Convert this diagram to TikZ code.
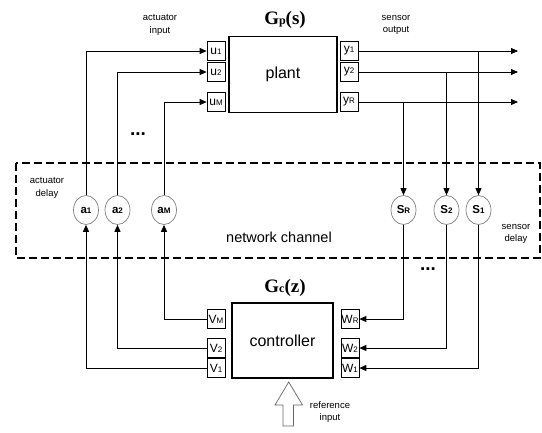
\documentclass[tikz,border=0pt]{standalone}
\usepackage{fontspec}
\setmainfont{Liberation Sans}
\newfontfamily\gfont{Liberation Serif}
\usetikzlibrary{shapes.geometric,arrows.meta}
% letter with a small index after it
\newcommand{\plab}[2]{#1{\fontsize{8}{8}\selectfont #2}}
\begin{document}
\begin{tikzpicture}[x=1pt,y=-1pt,>={Triangle[length=7pt,width=6pt]},line width=0.8pt,
  blk/.style={draw,line width=1.5pt,minimum width=#1,minimum height=76pt,font=\fontsize{16}{16}\selectfont},
  port/.style={draw,line width=0.7pt,minimum width=18pt,minimum height=19pt,inner sep=0pt,font=\fontsize{12}{12}\selectfont},
  dly/.style={ellipse,draw=gray,line width=0.7pt,minimum width=25pt,minimum height=29pt,inner sep=0pt,font=\fontsize{11.5}{11.5}\selectfont\bfseries},
  lbl/.style={align=center,font=\fontsize{9.5}{12.5}\selectfont},
  tf/.style={font=\gfont\bfseries\fontsize{19}{19}\selectfont}]
\useasboundingbox (0,0) rectangle (542,432);
% plant and controller
\node[blk=108pt] (plant) at (283,74.5) {plant};
\node[tf] (gp) at (285,20) {G{\fontsize{12}{12}\selectfont p}(s)};
\node[blk=101pt,minimum height=75pt] (ctrl) at (282.5,340.5) {controller};
\node[tf] (gc) at (285,288) {G{\fontsize{12}{12}\selectfont c}(z)};
% ports
\node[port] (u1) at (216,51) {\plab{u}{1}};
\node[port] (u2) at (216,72) {\plab{u}{2}};
\node[port] (uM) at (216,102) {\plab{u}{M}};
\node[port] (y1) at (349,51) {\plab{y}{1}};
\node[port] (y2) at (349,72) {\plab{y}{2}};
\node[port] (yR) at (349,102) {\plab{y}{R}};
\node[port] (vM) at (216,319) {\plab{V}{M}};
\node[port] (v2) at (216,348) {\plab{V}{2}};
\node[port] (v1) at (216,368) {\plab{V}{1}};
\node[port] (wR) at (350,319) {\plab{W}{R}};
\node[port] (w2) at (350,348) {\plab{W}{2}};
\node[port] (w1) at (350,368) {\plab{W}{1}};
% network channel
\draw[line width=1.4pt,dash pattern=on 8pt off 4pt] (16,163) rectangle (540,258);
\node[font=\fontsize{14.5}{14.5}\selectfont] (net) at (279,237) {network channel};
\node[dly] (a1) at (86,210) {\plab{a}{1}};
\node[dly] (a2) at (117.5,210) {\plab{a}{2}};
\node[dly] (aM) at (164,210) {\plab{a}{M}};
\node[dly] (sR) at (403.5,210) {\plab{S}{R}};
\node[dly] (s2) at (446.5,210) {\plab{S}{2}};
\node[dly] (s1) at (478.5,210) {\plab{S}{1}};
% labels
\node[lbl] (ain) at (160,25) {actuator\\input};
\node[lbl] (sout) at (396,25) {sensor\\output};
\node[lbl] (adel) at (47,188) {actuator\\delay};
\node[lbl] (sdel) at (516,234) {sensor\\delay};
\node[lbl] (rin) at (330,412) {reference\\input};
\node[font=\fontsize{19}{19}\selectfont\bfseries] (dt) at (138,134) {...};
\node[font=\fontsize{19}{19}\selectfont\bfseries] (db) at (428,269) {...};
% outputs
\path (518,51) coordinate (o1) (518,72) coordinate (o2) (518,102) coordinate (oR);
\foreach \i in {1,2,R} \draw[->] (y\i.east) -- (o\i);
\foreach \a/\u in {a1/u1,a2/u2,aM/uM} \draw[->] (\a.north) |- (\u.west);
\foreach \a/\v in {a1/v1,a2/v2,aM/vM} \draw[->] (\v.west) -| (\a.south);
\foreach \s/\y in {s1/y1,s2/y2,sR/yR} \draw[->] (\s |- \y.east) -- (\s.north);
\foreach \s/\w in {s1/w1,s2/w2,sR/wR} \draw[->] (\s.south) |- (\w.east);
% reference input
\draw[gray!80!black,line width=0.7pt] (283,426) -- (283,405) -- (275,405) -- (288.7,382)
  -- (302.5,405) -- (293.5,405) -- (293.5,426) -- cycle;
\end{tikzpicture}
\end{document}
